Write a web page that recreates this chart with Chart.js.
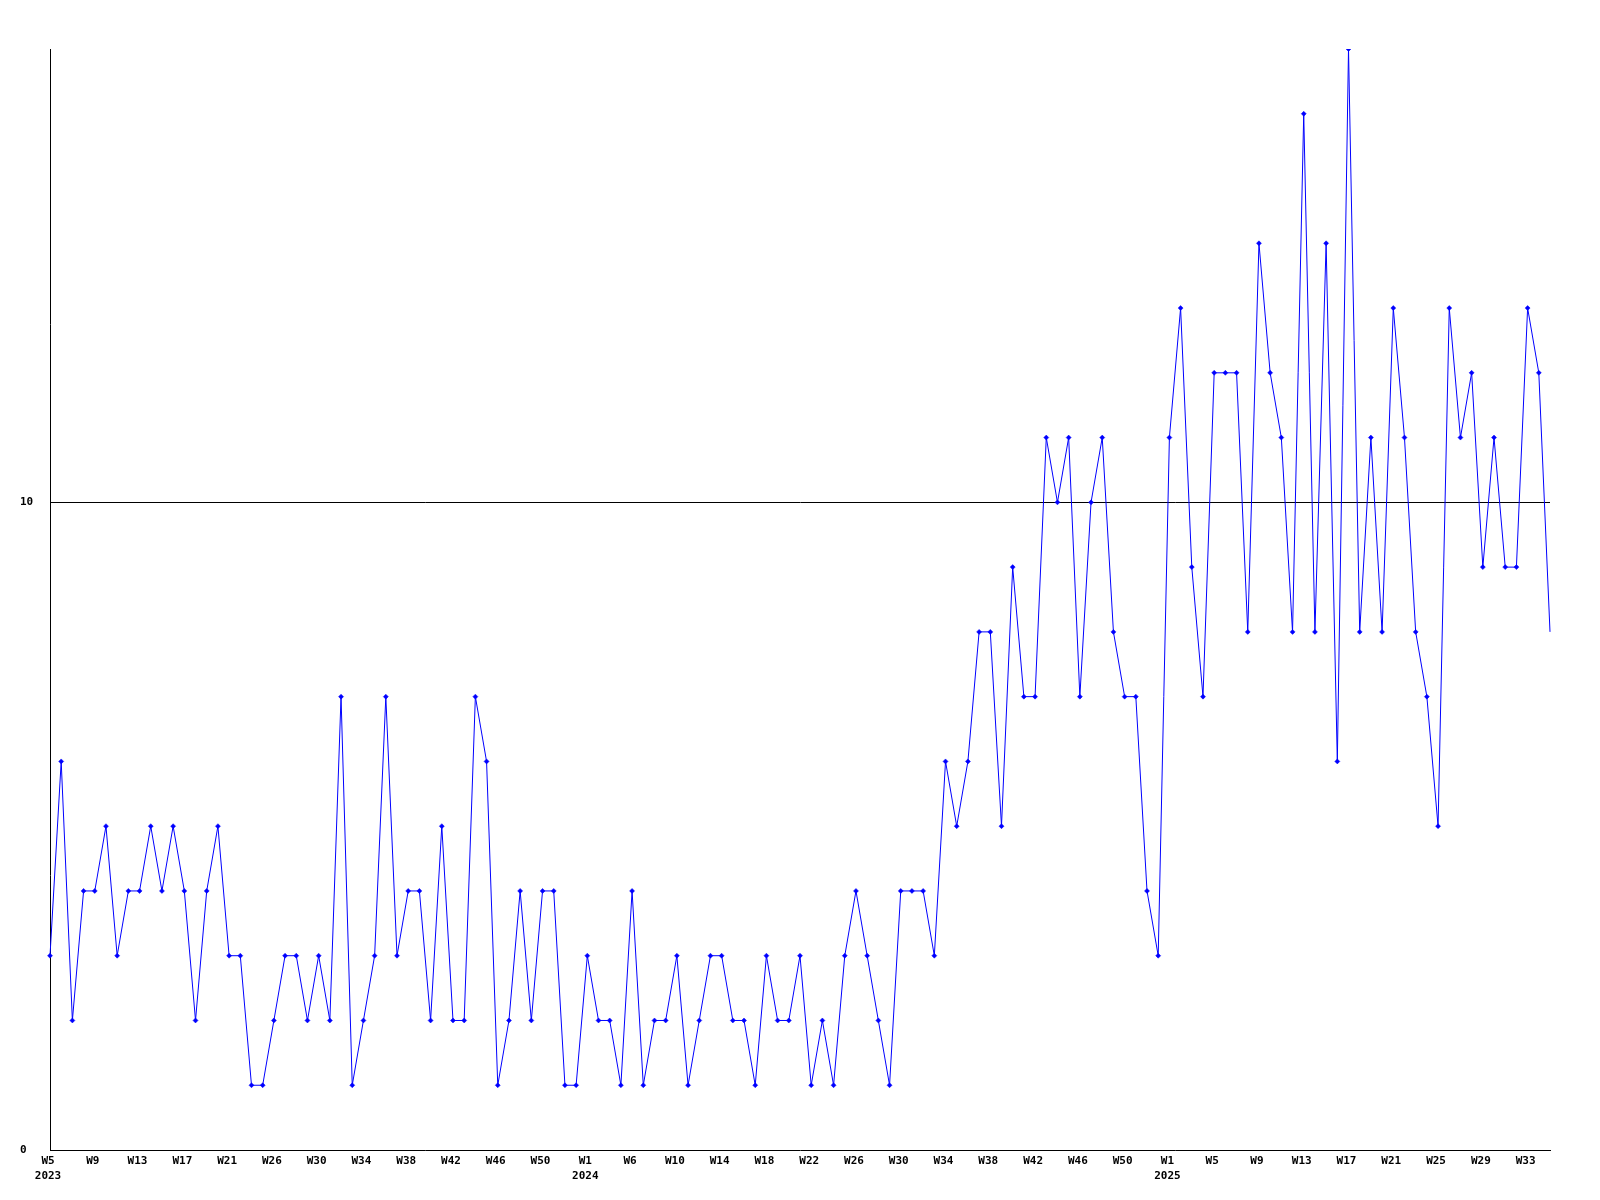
<!DOCTYPE html>
<html>
<head>
<meta charset="utf-8">
<script src="https://cdn.jsdelivr.net/npm/chart.js@4"></script>
<style>
  body { margin: 0; background: #fff; }
  canvas { display: block; }
</style>
</head>
<body>
<canvas id="weeklyChart" width="1600" height="1200"></canvas>
<script>
// week labels per year (weeks without reports are missing)
weeks2023 = 'W5 W6 W7 W8 W9 W10 W11 W12 W13 W14 W15 W16 W17 W18 W19 W20 W21 W22 W23 W25 W26 W27 W28 W29 W30 W31 W32 W33 W34 W35 W36 W37 W38 W39 W40 W41 W42 W43 W44 W45 W46 W47 W48 W49 W50 W51 W52 W53'.split(' ')
weeks2024 = 'W1 W2 W3 W5 W6 W7 W8 W9 W10 W11 W12 W13 W14 W15 W16 W17 W18 W19 W20 W21 W22 W23 W24 W25 W26 W27 W28 W29 W30 W31 W32 W33 W34 W35 W36 W37 W38 W39 W40 W41 W42 W43 W44 W45 W46 W47 W48 W49 W50 W51 W52'.split(' ')
weeks2025 = 'W0 W1 W2 W3 W4 W5 W6 W7 W8 W9 W10 W11 W12 W13 W14 W15 W16 W17 W18 W19 W20 W21 W22 W23 W24 W25 W26 W27 W28 W29 W30 W31 W32 W33 W34 W35'.split(' ')

counts2023 = [3, 6, 2, 4, 4, 5, 3, 4, 4, 5, 4, 5, 4, 2, 4, 5, 3, 3, 1, 1,
              2, 3, 3, 2, 3, 2, 7, 1, 2, 3, 7, 3, 4, 4, 2, 5, 2, 2, 7, 6,
              1, 2, 4, 2, 4, 4, 1, 1]
counts2024 = [3, 2, 2, 1, 4, 1, 2, 2, 3, 1, 2, 3, 3, 2, 2, 1, 3, 2, 2, 3,
              1, 2, 1, 3, 4, 3, 2, 1, 4, 4, 4, 3, 6, 5, 6, 8, 8, 5, 9, 7,
              7, 11, 10, 11, 7, 10, 11, 8, 7, 7, 4]
counts2025 = [3, 11, 13, 9, 7, 12, 12, 12, 8, 14, 12, 11, 8, 16, 8, 14, 6, 17, 8, 11,
              8, 13, 11, 8, 7, 5, 13, 11, 12, 9, 11, 9, 9, 13, 12, 8]

labels = [].concat(
    weeks2023.map(w => '2023 ' + w),
    weeks2024.map(w => '2024 ' + w),
    weeks2025.map(w => '2025 ' + w)
)
counts = [].concat(counts2023, counts2024, counts2025)

Chart.defaults.color = '#000'
Chart.defaults.font = { family: '"DejaVu Sans Mono", monospace', size: 11, weight: 'bold', lineHeight: '15px' }

let weeklyChart = new Chart(document.getElementById('weeklyChart'), {
    type: 'line',
    data: {
        labels: labels,
        datasets: [
            {
                data: counts,
                borderColor: 'rgb(0, 0, 255)',
                backgroundColor: 'rgb(0, 0, 255)',
                borderWidth: 1,
                tension: 0,
                pointStyle: 'rectRot',
                // the last week has no marker in the original
                pointRadius: ctx => ctx.dataIndex === counts.length - 1 ? 0 : 2.5,
                pointBorderWidth: 0.5,
                pointHoverRadius: 2.5
            }
        ]
    },
    options: {
        responsive: false,
        animation: false,
        layout: { padding: { left: 20, right: 50, top: 49, bottom: 0 } },
        plugins: {
            legend: { display: false },
            tooltip: { enabled: false }
        },
        scales: {
            x: {
                offset: false,
                grid: { display: false, drawTicks: false },
                border: { display: true, color: '#000', width: 1 },
                ticks: {
                    autoSkip: false,
                    maxRotation: 0,
                    padding: 4,
                    labelOffset: -2,
                    callback: function (value, index) {
                        if (index % 4 !== 0) return ''
                        let [year, week] = this.getLabelForValue(value).split(' ')
                        let prevYear = index >= 4 ? this.getLabelForValue(index - 4).split(' ')[0] : null
                        return year !== prevYear ? [week, year] : week
                    }
                },
                afterFit: scale => { scale.height = 50 }
            },
            y: {
                min: 0,
                max: 17,
                grid: {
                    drawTicks: false,
                    color: ctx => ctx.tick && ctx.tick.value === 10 ? '#000' : 'rgba(0,0,0,0)'
                },
                border: { display: true, color: '#000', width: 1 },
                ticks: {
                    stepSize: 10,
                    includeBounds: false,
                    crossAlign: 'far'
                },
                afterFit: scale => { scale.width = 30 }
            }
        }
    }
})
</script>
</body>
</html>
